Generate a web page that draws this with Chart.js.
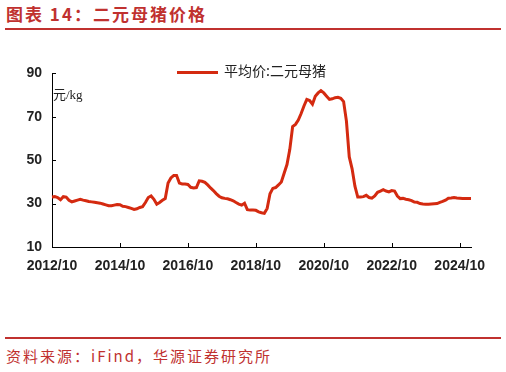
<!DOCTYPE html>
<html>
<head>
<meta charset="utf-8">
<script src="https://cdn.jsdelivr.net/npm/chart.js@4.4.1/dist/chart.umd.min.js"></script>
<style>
  html, body { margin: 0; padding: 0; background: #fff; }
  body { width: 506px; height: 372px; position: relative; overflow: hidden; font-family: "Noto Sans CJK SC", sans-serif; }
  .title { position: absolute; left: 6px; top: 1px; font-size: 17px; font-weight: bold; color: #c0312f; letter-spacing: 2px; }
  .rule { position: absolute; left: 5px; width: 496px; height: 2px; background: #c0312f; }
  .source { position: absolute; left: 6px; top: 345px; font-size: 15px; color: #c0312f; letter-spacing: 2px; }
  .unit { position: absolute; left: 53px; top: 84px; font-size: 13px; color: #222; font-family: "Liberation Serif", "Noto Sans CJK SC", serif; }
  .legend { position: absolute; left: 177px; top: 60px; font-size: 14px; color: #222; }
  .legend i { display: inline-block; width: 41px; height: 3px; background: #d42a10; vertical-align: middle; margin-right: 6px; }
  #wrap { position: absolute; left: 0; top: 55px; width: 506px; height: 225px; }
</style>
</head>
<body>
<div class="title">图表 14：二元母猪价格</div>
<div class="rule" style="top:28px"></div>
<div class="rule" style="top:337px"></div>
<div class="source">资料来源：iFind，华源证券研究所</div>
<div id="wrap"><canvas id="myChart"></canvas></div>
<div class="unit">元/kg</div>
<div class="legend"><i></i>平均价:二元母猪</div>
<script>
// monthly, 2012/10 .. 2025/02
const startYear = 2012, startMonth = 10;
const prices = [
  33.0, 33.2, 32.8, 31.8, 33.2, 33.0, 31.5, 30.8, 31.2, 31.6,
  32.0, 31.6, 31.3, 31.0, 30.8, 30.6, 30.4, 30.2, 29.8, 29.4,
  29.0, 29.0, 29.3, 29.6, 29.5, 28.8, 28.6, 28.2, 27.8, 27.3,
  27.6, 28.2, 28.6, 30.5, 32.8, 33.5, 32.0, 29.7, 30.5, 31.5,
  32.3, 39.5, 41.8, 43.0, 43.0, 39.5, 39.0, 39.0, 38.8, 37.5,
  37.2, 37.4, 40.5, 40.3, 39.8, 38.6, 37.2, 36.0, 34.6, 33.4,
  32.7, 32.4, 32.2, 31.8, 31.3, 30.5, 29.8, 29.3, 30.2, 27.2,
  27.0, 27.0, 26.9, 26.2, 25.8, 25.5, 27.8, 34.5, 37.0, 37.4,
  38.6, 40.0, 44.0, 48.0, 55.0, 65.5, 66.5, 68.5, 71.5, 75.0,
  78.0, 77.5, 75.8, 79.5, 81.0, 82.0, 81.0, 79.5, 78.0, 78.3,
  78.8, 79.0, 78.5, 77.0, 68.0, 51.5, 46.0, 38.0, 33.0, 33.0,
  33.2, 33.8, 32.8, 32.5, 33.5, 35.2, 35.8, 36.4, 35.8, 35.4,
  36.0, 35.8, 33.5, 32.3, 32.4, 32.0, 31.8, 31.4, 30.7, 30.6,
  30.0, 29.8, 29.7, 29.7, 29.8, 29.9, 30.0, 30.6, 31.0, 31.6,
  32.5, 32.6, 32.8, 32.6, 32.5, 32.4, 32.4, 32.4, 32.4
];
const xTickLabels = ['2012/10', '2014/10', '2016/10', '2018/10', '2020/10', '2022/10', '2024/10'];
const yTicks = [10, 30, 50, 70, 90];

const months = prices.map((v, i) => {
  const m = startMonth - 1 + i;
  return (startYear + Math.floor(m / 12)) + '/' + String(m % 12 + 1).padStart(2, '0');
});

// short tick marks pointing into the plot
const innerTicks = {
  id: 'innerTicks',
  afterDatasetsDraw(chart){
    const {ctx, chartArea, scales: {x, y}} = chart;
    ctx.save();
    ctx.strokeStyle = '#000';
    ctx.lineWidth = 1;
    ctx.beginPath();
    xTickLabels.forEach(l => {
      const px = Math.round(x.getPixelForValue(months.indexOf(l))) + 0.5;
      ctx.moveTo(px, chartArea.bottom);
      ctx.lineTo(px, chartArea.bottom - 4);
    });
    yTicks.forEach(t => {
      const py = Math.round(y.getPixelForValue(t)) + 0.5;
      ctx.moveTo(chartArea.left, py);
      ctx.lineTo(chartArea.left + 4, py);
    });
    ctx.stroke();
    ctx.restore();
  }
};

const ctx = document.getElementById('myChart').getContext('2d');
const myChart = new Chart(ctx, {
  type: 'line',
  data: {
    labels: months,
    datasets: [{
      label: '平均价:二元母猪',
      data: prices,
      borderColor: '#d42a10',
      borderWidth: 3,
      pointRadius: 0,
      tension: 0,
      fill: false
    }]
  },
  options: {
    responsive: true,
    maintainAspectRatio: false,
    animation: false,
    layout: { padding: { top: 17, right: 35, left: 0, bottom: 0 } },
    plugins: { legend: { display: false }, tooltip: { enabled: false } },
    scales: {
      x: {
        offset: false,
        grid: { display: false, drawTicks: false },
        border: { display: true, color: '#000', width: 1 },
        afterFit: s => { s.height = 33; },
        ticks: {
          autoSkip: false,
          maxRotation: 0,
          padding: 11,
          color: '#222',
          font: { family: 'Liberation Sans, Arial', size: 14, weight: 'bold' },
          callback: (v, i) => xTickLabels.includes(months[i]) ? months[i] : null
        }
      },
      y: {
        min: 10,
        max: 90,
        afterFit: s => { s.width = 52; },
        grid: { display: false, drawTicks: false },
        border: { display: true, color: '#000', width: 1 },
        afterBuildTicks: s => { s.ticks = yTicks.map(v => ({ value: v })); },
        ticks: {
          padding: 10,
          color: '#222',
          font: { family: 'Liberation Sans, Arial', size: 14, weight: 'bold' }
        }
      }
    }
  },
  plugins: [innerTicks]
});
</script>
</body>
</html>
